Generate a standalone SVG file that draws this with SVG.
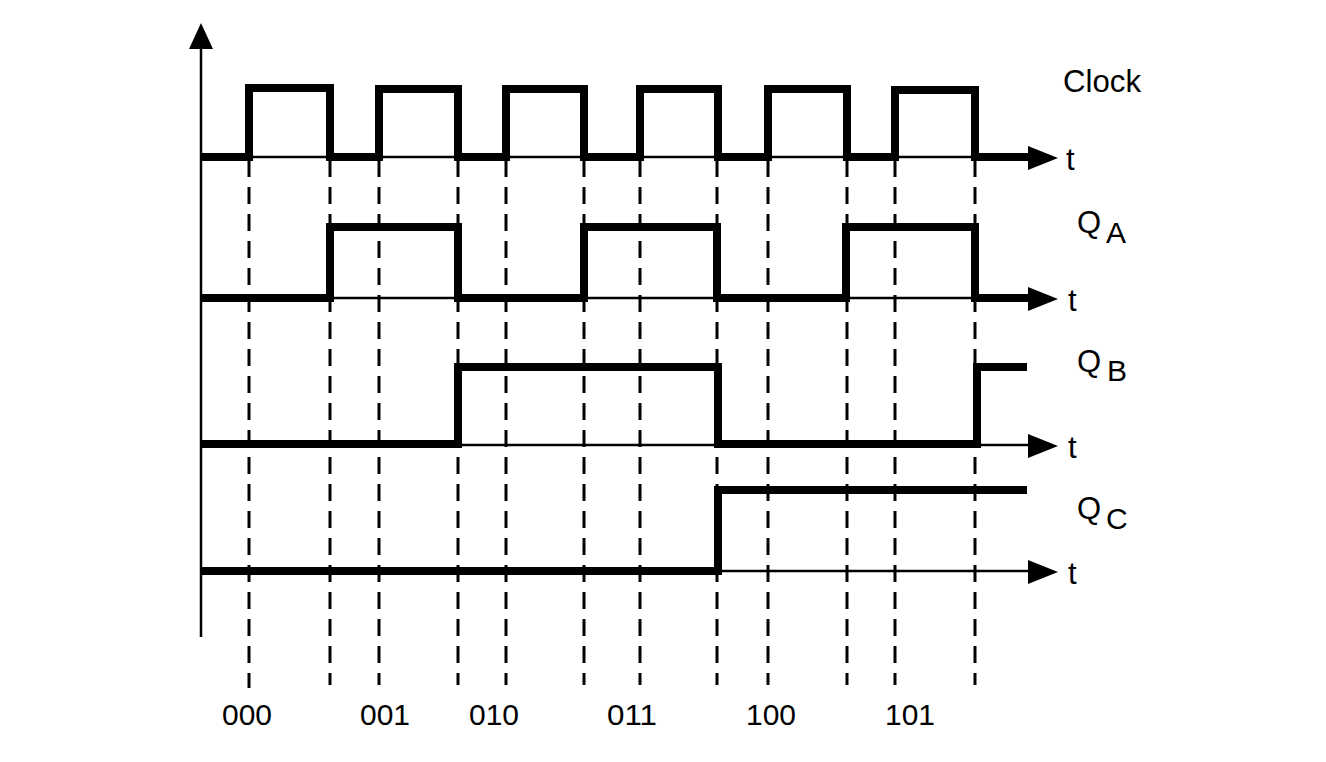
<svg xmlns="http://www.w3.org/2000/svg" width="1326" height="762" viewBox="0 0 1326 762">
<style>
.axis{stroke:#000;stroke-width:2.5;fill:none}
.wave{stroke:#000;stroke-width:8;fill:none;stroke-linejoin:miter;stroke-linecap:butt}
.dash{stroke:#000;stroke-width:3;stroke-dasharray:17 10;fill:none}
.head{fill:#000}
.lbl{font-family:"Liberation Sans",Arial,sans-serif;fill:#000}
</style>
<rect width="1326" height="762" fill="#fff"/>
<g id="connectors">
<path class="dash" d="M249,160V688M330,160V685M379,160V685M458,160V685M506,160V685M584,160V685M640,160V685M717,160V685M768,160V685M847,160V685M895,160V685M975,160V685"/>
</g>
<g id="y-axis">
<line class="axis" x1="201" y1="44" x2="201" y2="637"/>
<polygon class="head" points="201,23 189,49 213,49"/>
</g>
<g id="clock">
<line class="axis" x1="201" y1="157" x2="1035" y2="157"/>
<polygon class="head" points="1058,158 1028,146 1028,170"/>
<polyline class="wave" points="201,157 249,157 249,88 330,88 330,157 379,157 379,89 458,89 458,157 506,157 506,89 584,89 584,157 640,157 640,89 718,89 718,157 768,157 768,89 847,89 847,157 895,157 895,90 975,90 975,157 1032,157"/>
<text class="lbl" x="1063" y="92" font-size="31" textLength="78" lengthAdjust="spacingAndGlyphs">Clock</text>
<text class="lbl" x="1066" y="170" font-size="31">t</text>
</g>
<g id="qa">
<line class="axis" x1="201" y1="298" x2="1035" y2="298"/>
<polygon class="head" points="1058,299 1028,287 1028,311"/>
<polyline class="wave" points="201,298 330,298 330,227 458,227 458,298 584,298 584,227 717,227 717,298 846,298 846,227 975,227 975,298 1032,298"/>
<text class="lbl" x="1077" y="233" font-size="31">Q</text>
<text class="lbl" x="1106" y="243" font-size="30">A</text>
<text class="lbl" x="1068" y="311" font-size="31">t</text>
</g>
<g id="qb">
<line class="axis" x1="201" y1="445" x2="1035" y2="445"/>
<polygon class="head" points="1058,446 1028,434 1028,458"/>
<polyline class="wave" points="201,444 458,444 458,367 718,367 718,444 977,444 977,367 1027,367"/>
<text class="lbl" x="1077" y="372" font-size="31">Q</text>
<text class="lbl" x="1107" y="381" font-size="30">B</text>
<text class="lbl" x="1068" y="458" font-size="31">t</text>
</g>
<g id="qc">
<line class="axis" x1="201" y1="571" x2="1035" y2="571"/>
<polygon class="head" points="1058,572 1028,560 1028,584"/>
<polyline class="wave" points="201,571 718,571 718,490 1027,490"/>
<text class="lbl" x="1077" y="519" font-size="31">Q</text>
<text class="lbl" x="1106" y="529" font-size="30">C</text>
<text class="lbl" x="1068" y="584" font-size="31">t</text>
</g>
<g id="states" class="lbl" font-size="30" text-anchor="middle">
<text x="247" y="725" textLength="50" lengthAdjust="spacingAndGlyphs">000</text>
<text x="385" y="725" textLength="50" lengthAdjust="spacingAndGlyphs">001</text>
<text x="494" y="725" textLength="50" lengthAdjust="spacingAndGlyphs">010</text>
<text x="632" y="725" textLength="50" lengthAdjust="spacingAndGlyphs">011</text>
<text x="771" y="725" textLength="50" lengthAdjust="spacingAndGlyphs">100</text>
<text x="910" y="725" textLength="50" lengthAdjust="spacingAndGlyphs">101</text>
</g>
</svg>
